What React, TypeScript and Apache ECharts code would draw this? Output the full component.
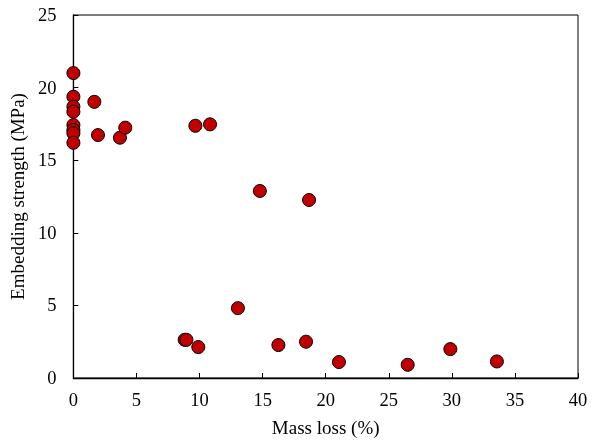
import React, { useEffect, useRef } from "react";
import * as echarts from "echarts";

const massLoss = [0, 0, 0, 0, 0, 0, 0, 0, 1.66, 1.95, 3.69, 4.11, 9.67, 10.83, 14.78, 18.68, 13.04, 8.82, 8.96, 9.9, 16.25, 18.44, 21.05, 26.5, 29.88, 33.57];
const strength = [21.0, 19.37, 18.68, 18.34, 17.42, 17.08, 16.85, 16.2, 19.02, 16.73, 16.55, 17.24, 17.37, 17.47, 12.88, 12.26, 4.81, 2.63, 2.63, 2.13, 2.27, 2.5, 1.1, 0.91, 1.99, 1.14];
const xTicks = [0, 5, 10, 15, 20, 25, 30, 35, 40];
const yTicks = [0, 5, 10, 15, 20, 25];

export default function App() {
  const ref = useRef<HTMLDivElement>(null);
  useEffect(() => {
    if (!ref.current) return;
    const chart = echarts.init(ref.current, undefined, { renderer: "svg" });
    const font = "Liberation Serif";
    chart.setOption({
      animation: false,
      grid: { left: 71, right: 14, top: 15, bottom: 67, show: true, borderColor: "#000", borderWidth: 1 },
      xAxis: {
        type: "value",
        min: xTicks[0],
        max: xTicks[xTicks.length - 1],
        interval: 5,
        name: "Mass loss (%)",
        nameLocation: "middle",
        nameGap: 40,
        nameTextStyle: { fontFamily: font, fontSize: 19, color: "#000" },
        axisLine: { lineStyle: { color: "#000", width: 1.3 } },
        axisTick: { inside: true, length: 5, lineStyle: { color: "#000" } },
        axisLabel: { fontFamily: font, fontSize: 18.5, color: "#000", margin: 12 },
        splitLine: { show: false },
      },
      yAxis: {
        type: "value",
        min: yTicks[0],
        max: yTicks[yTicks.length - 1],
        interval: 5,
        name: "Embedding strength (MPa)",
        nameLocation: "middle",
        nameGap: 41,
        nameTextStyle: { fontFamily: font, fontSize: 19, color: "#000" },
        axisLine: { show: true, lineStyle: { color: "#000", width: 1.3 } },
        axisTick: { show: true, inside: true, length: 5, lineStyle: { color: "#000" } },
        axisLabel: { fontFamily: font, fontSize: 18.5, color: "#000", margin: 17 },
        splitLine: { show: false },
      },
      series: [
        {
          type: "scatter",
          data: massLoss.map((x, i) => [x, strength[i]]),
          symbolSize: 13,
          itemStyle: { color: "#c00000", opacity: 1, borderColor: "#000", borderWidth: 1 },
        },
      ],
    });
    return () => chart.dispose();
  }, []);
  return <div ref={ref} style={{ position: "fixed", left: 0, top: 0, width: 592, height: 445 }} />;
}
